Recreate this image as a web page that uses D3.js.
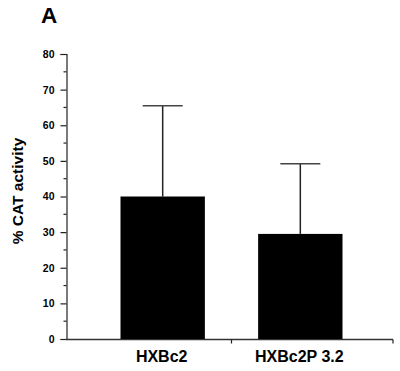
<!DOCTYPE html>
<html>
<head>
<meta charset="utf-8">
<script src="https://cdnjs.cloudflare.com/ajax/libs/d3/7.8.5/d3.min.js"></script>
<style>
  body { margin: 0; background: #fff; }
  text { font-family: "Liberation Sans", Arial, sans-serif; font-weight: bold; fill: #000; }
</style>
</head>
<body>
<svg id="chart" width="400" height="371"></svg>
<script>
// chart data
var categories = ["HXBc2", "HXBc2P 3.2"];
var means = [40, 29.5];
var errors = [25.5, 19.7];   // upper error (SD)
var yTicks = [0, 10, 20, 30, 40, 50, 60, 70, 80];

var svg = d3.select("#chart");

var y = d3.scaleLinear().domain([0, 80]).range([339, 54]);

// bars only fill part of the x axis
var x = d3.scaleBand()
    .domain(categories)
    .range([120.5, 342.5])
    .paddingInner(0.387)
    .paddingOuter(0);

// panel letter
svg.append("text")
    .attr("x", 41)
    .attr("y", 23)
    .style("font-size", "22.5px")
    .text("A");

// y axis, major ticks
var yAxis = d3.axisLeft(y)
    .tickValues(yTicks)
    .tickSize(6)
    .tickPadding(6);

var gy = svg.append("g")
    .attr("transform", "translate(66.5,0)")
    .call(yAxis);
gy.select(".domain").attr("stroke", "#222").attr("stroke-width", 1.2);
gy.selectAll(".tick line").attr("stroke", "#222").attr("stroke-width", 1.2);
gy.selectAll(".tick text").style("font-size", "10.5px").style("font-family", "Liberation Sans, Arial, sans-serif");

// minor ticks at 5s
var minor = d3.range(5, 80, 10);
svg.append("g").selectAll("line").data(minor).enter().append("line")
    .attr("x1", 63.5).attr("x2", 66.5)
    .attr("y1", function(d){ return y(d); })
    .attr("y2", function(d){ return y(d); })
    .attr("stroke", "#222").attr("stroke-width", 1.2);

// x axis line with ticks between / after groups
svg.append("line")
    .attr("x1", 66).attr("x2", 393)
    .attr("y1", 339.5).attr("y2", 339.5)
    .attr("stroke", "#333").attr("stroke-width", 1.4);

var xEdges = [(x(categories[0]) + x.bandwidth() + x(categories[1])) / 2, 393];
svg.append("g").selectAll("line").data(xEdges).enter().append("line")
    .attr("x1", function(d){ return d; })
    .attr("x2", function(d){ return d; })
    .attr("y1", 339.5).attr("y2", 343.5)
    .attr("stroke", "#222").attr("stroke-width", 1.2);

// y label
svg.append("text")
    .attr("transform", "translate(22.5,191) rotate(-90)")
    .attr("text-anchor", "middle")
    .style("font-size", "15.5px")
    .text("% CAT activity");

// error bars (drawn first so bars cover the base)
var eb = svg.append("g").selectAll("g").data(categories).enter().append("g");
eb.append("line")
    .attr("x1", function(d){ return x(d) + x.bandwidth() / 2; })
    .attr("x2", function(d){ return x(d) + x.bandwidth() / 2; })
    .attr("y1", function(d, i){ return y(means[i]); })
    .attr("y2", function(d, i){ return y(means[i] + errors[i]); })
    .attr("stroke", "#222").attr("stroke-width", 1.5);
eb.append("line")
    .attr("x1", function(d){ return x(d) + x.bandwidth() / 2 - 20; })
    .attr("x2", function(d){ return x(d) + x.bandwidth() / 2 + 20; })
    .attr("y1", function(d, i){ return y(means[i] + errors[i]); })
    .attr("y2", function(d, i){ return y(means[i] + errors[i]); })
    .attr("stroke", "#444").attr("stroke-width", 1.5);

// bars
svg.append("g").selectAll("rect").data(categories).enter().append("rect")
    .attr("x", function(d){ return x(d); })
    .attr("width", x.bandwidth())
    .attr("y", function(d, i){ return y(means[i]); })
    .attr("height", function(d, i){ return y(0) - y(means[i]); })
    .attr("fill", "#000");

// category labels
svg.append("g").selectAll("text").data(categories).enter().append("text")
    .attr("x", function(d){ return x(d) + x.bandwidth() / 2 - 1; })
    .attr("y", 362)
    .attr("text-anchor", "middle")
    .style("font-size", "16px")
    .text(function(d){ return d; });
</script>
</body>
</html>
